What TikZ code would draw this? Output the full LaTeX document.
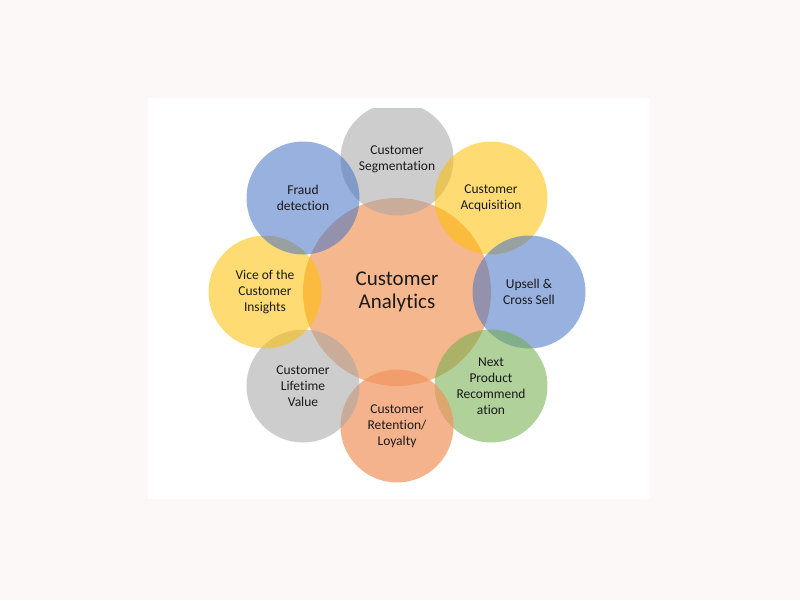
\documentclass[tikz,border=0pt]{standalone}
\usepackage{fontspec}
\setmainfont{Carlito}[Ligatures={NoCommon}]
\definecolor{obg}{HTML}{FBF8F7}
\definecolor{oblue}{HTML}{4472C4}
\definecolor{ogold}{HTML}{FFC000}
\definecolor{ogreen}{HTML}{70AD47}
\definecolor{ogray}{HTML}{A5A5A5}
\definecolor{oorange}{HTML}{ED7D31}
\definecolor{osalmon}{HTML}{F2945E}
\definecolor{otext}{HTML}{1A1A1A}
\tikzset{
  petal/.style={circle, minimum size=113pt, inner sep=0pt, fill opacity=0.55, text opacity=1,
    align=center, font=\fontsize{13.5}{16}\selectfont, text=otext},
  hub/.style={circle, minimum size=188pt, inner sep=0pt, fill=oorange, fill opacity=0.55, text opacity=1,
    align=center, font=\fontsize{21}{23}\selectfont, text=otext}
}
\begin{document}
\begin{tikzpicture}[x=1pt,y=-1pt]
\fill[obg] (0,0) rectangle (800,600);
\fill[white] (148,98) rectangle (650,499);
\useasboundingbox (0,0) rectangle (800,600);
\begin{scope}
\clip (148,108) rectangle (650,499);
\node[hub] (hub) at (397,292) {Customer\\Analytics};
\node[petal, fill=ogray] (seg) at (397,159) {Customer\\Segmentation};
\node[petal, fill=ogold] (acq) at (491,198) {Customer\\Acquisition};
\node[petal, fill=oblue] (ups) at (529,292) {Upsell \&\\Cross Sell};
\node[petal, fill=ogreen] (npr) at (491,386) {Next\\Product\\Recommend\\ation};
\node[petal, fill=osalmon, fill opacity=0.7] (ret) at (397,426) {Customer\\Retention/\\Loyalty};
\node[petal, fill=ogray] (clv) at (303,386) {Customer\\Lifetime\\Value};
\node[petal, fill=ogold] (voc) at (265,292) {Vice of the\\Customer\\Insights};
\node[petal, fill=oblue] (frd) at (303,198) {Fraud\\detection};
\end{scope}
\end{tikzpicture}
\end{document}
